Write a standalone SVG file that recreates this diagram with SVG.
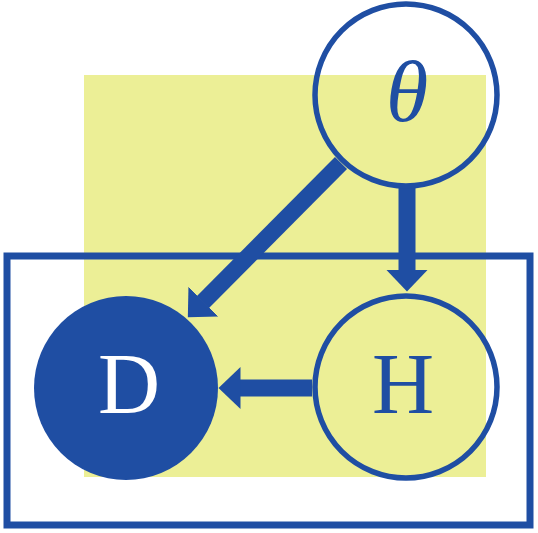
<svg xmlns="http://www.w3.org/2000/svg" width="538" height="533" viewBox="0 0 538 533">
<style>
.node{fill:none;stroke:#1f4ea3;stroke-width:5.5}
.lbl{font-family:"Liberation Serif",serif;font-size:86px;text-anchor:middle}
.edge{stroke:#1f4ea3;stroke-width:17;fill:none}
</style>
<defs>
<marker id="ah" markerUnits="userSpaceOnUse" markerWidth="24" markerHeight="44" refX="0.5" refY="21" orient="auto" viewBox="0 0 24 42">
<path d="M0,0 L22,21 L0,42 Z" fill="#1f4ea3"/>
</marker>
</defs>
<rect x="84" y="75" width="402" height="402" fill="#ecef96"/>
<rect x="7" y="256" width="523" height="269" fill="none" stroke="#1f4ea3" stroke-width="7"/>
<g id="edges">
<line class="edge" x1="407" y1="188" x2="407" y2="270" marker-end="url(#ah)"/>
<line class="edge" x1="341" y1="163" x2="203" y2="302" marker-end="url(#ah)"/>
<line class="edge" x1="312" y1="388" x2="240" y2="388" marker-end="url(#ah)"/>
</g>
<g id="theta">
<circle class="node" cx="406" cy="95" r="91"/>
<text class="lbl" x="407" y="121" font-style="italic" fill="#1f4ea3">θ</text>
</g>
<g id="H">
<circle class="node" cx="406" cy="387" r="91"/>
<text class="lbl" x="403" y="413" fill="#1f4ea3">H</text>
</g>
<g id="D">
<circle cx="126" cy="388" r="92" fill="#1f4ea3"/>
<text class="lbl" x="129" y="413" fill="#ffffff">D</text>
</g>
</svg>
